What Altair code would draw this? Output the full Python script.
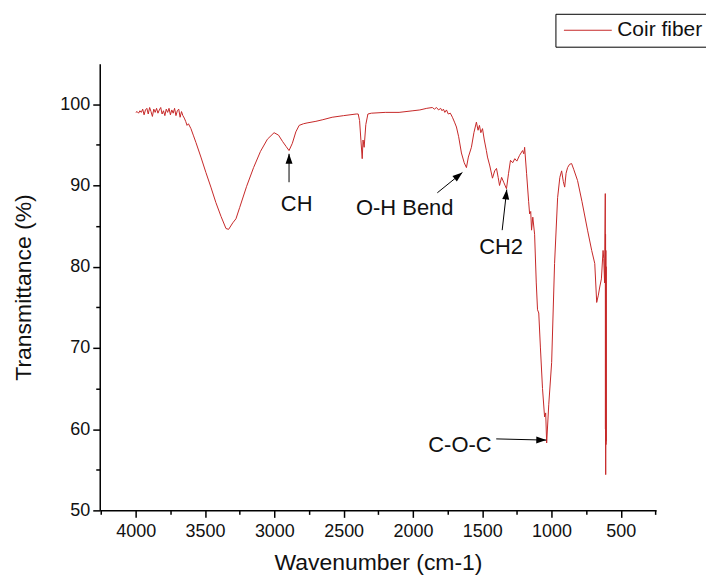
import altair as alt
import pandas as pd

# ---- spectrum data ----
wavenumber = [
    4000, 3990, 3980, 3970, 3960, 3950, 3940, 3930, 3920, 3910, 3900, 3890, 3880, 3870,
    3860, 3850, 3840, 3830, 3820, 3810, 3800, 3790, 3780, 3770, 3760, 3750, 3740, 3730,
    3720, 3710, 3700, 3690, 3680, 3670, 3660, 3650, 3640, 3630, 3620, 3602, 3585, 3566,
    3530, 3494, 3458, 3422, 3385, 3349, 3330, 3300, 3277, 3250, 3200, 3150, 3100, 3050,
    3002, 2970, 2940, 2915, 2894, 2870, 2845, 2821, 2790, 2764, 2700, 2650, 2583, 2500,
    2409, 2395, 2385, 2375, 2366, 2360, 2352, 2340, 2325, 2300, 2200, 2100, 2000, 1950,
    1900, 1860, 1845, 1830, 1815, 1800, 1790, 1780, 1770, 1758, 1745, 1730, 1715, 1700,
    1686, 1670, 1650, 1630, 1614, 1600, 1578, 1560, 1542, 1530, 1520, 1510, 1498, 1485,
    1470, 1462, 1445, 1426, 1410, 1397, 1385, 1375, 1360, 1345, 1325, 1310, 1296, 1280,
    1265, 1250, 1231, 1220, 1209, 1200, 1194, 1180, 1165, 1158, 1150, 1144, 1135, 1122,
    1110, 1101, 1092, 1080, 1065, 1050, 1042, 1035, 1020, 999, 978, 956, 940, 927,
    915, 905, 895, 884, 870, 855, 840, 812, 780, 740, 710, 688, 674, 662,
    652, 640, 628, 623, 617, 612, 611, 610, 609, 608, 607, 606, 605,
]
transmittance = [
    99.0, 99.1, 98.9, 99.2, 99.0, 99.4, 98.7, 99.3, 99.5, 98.8, 99.6, 99.1, 98.5, 99.4,
    99.0, 99.5, 98.9, 99.3, 99.6, 98.8, 99.2, 98.6, 99.4, 99.0, 99.5, 98.7, 99.3, 98.9,
    99.5, 98.6, 99.2, 99.4, 98.4, 99.1, 98.6, 98.3, 97.9, 97.4, 97.6, 97.0, 96.2, 95.3,
    93.5, 91.6, 89.8, 87.9, 86.2, 84.7, 84.6, 85.4, 85.9, 87.3, 89.9, 92.2, 94.2, 95.7,
    96.5, 96.2, 95.4, 94.8, 94.3, 95.2, 96.6, 97.4, 97.6, 97.7, 97.9, 98.1, 98.4, 98.6,
    98.8, 98.8, 98.0, 95.5, 93.3, 95.6, 94.7, 97.5, 98.8, 98.9, 99.0, 99.0, 99.2, 99.3,
    99.5, 99.6, 99.4, 99.6, 99.3, 99.5, 99.2, 99.4, 99.0, 99.3, 98.8, 98.9, 98.4, 97.8,
    97.2, 96.0, 94.0, 92.8, 92.2, 93.5, 94.7, 96.5, 97.8, 96.8, 97.4, 96.5, 97.0, 95.6,
    94.3, 93.5, 92.4, 90.9, 91.8, 92.1, 91.0, 90.0, 91.0, 90.4, 89.6, 91.5, 93.1, 92.8,
    93.3, 93.0, 93.7, 94.0, 94.3, 93.9, 94.7, 91.5, 88.0, 86.5, 86.8, 84.5, 86.1, 84.0,
    78.0, 74.7, 74.3, 70.0, 65.0, 61.5, 62.0, 58.3, 63.0, 68.2, 80.4, 88.5, 91.0, 91.8,
    90.5, 89.8, 91.5, 92.2, 92.6, 92.7, 92.0, 90.6, 88.0, 84.5, 82.0, 80.4, 75.6, 76.5,
    77.5, 78.5, 82.0, 81.0, 78.0, 89.0, 60.0, 84.0, 54.4, 82.0, 58.1, 80.0, 58.5,
]
series_name = "Coir fiber"

# ---- annotations ----
label_text = ["CH", "O-H Bend", "CH2", "C-O-C"]
label_x = [2839, 2059, 1364, 1661]
label_y = [87.7, 87.2, 82.4, 58.0]

arrow_x_tail = [2894, 1824, 1356, 1399]
arrow_y_tail = [90.4, 89.1, 84.5, 58.8]
arrow_x_tip = [2894, 1643, 1323, 1038]
arrow_y_tip = [93.9, 91.6, 89.5, 58.65]
arrow_angle = [0, 51, 6, 91]

x_ticks = list(range(4250, 249, -250))
y_ticks = list(range(50, 101, 5))

spec_df = pd.DataFrame({
    "wn": wavenumber,
    "t": transmittance,
    "idx": list(range(len(wavenumber))),
    "series": [series_name] * len(wavenumber),
})
lab_df = pd.DataFrame({"text": label_text, "x": label_x, "y": label_y})
arr_df = pd.DataFrame({
    "x": arrow_x_tail, "y": arrow_y_tail,
    "x2": arrow_x_tip, "y2": arrow_y_tip, "angle": arrow_angle,
})

FONT = "Liberation Sans"
RED = "#c62828"

x_scale = alt.Scale(domain=[4260, 245], nice=False, zero=False)
y_scale = alt.Scale(domain=[50, 105], nice=False, zero=False)

x_axis = alt.Axis(
    title="Wavenumber (cm-1)",
    values=x_ticks,
    tickCount=100,
    format="d",
    labelOverlap=False,
    labelPadding=5,
    labelExpr="datum.value % 500 === 0 ? datum.label : ''",
    tickSize={"condition": {"test": "datum.value % 500 === 0", "value": 7}, "value": 4},
    titlePadding=11,
)
y_axis = alt.Axis(
    title="Transmittance (%)",
    values=y_ticks,
    tickCount=100,
    format="d",
    labelOverlap=False,
    labelPadding=3,
    labelExpr="datum.value % 10 === 0 ? datum.label : ''",
    tickSize={"condition": {"test": "datum.value % 10 === 0", "value": 7}, "value": 4},
    titlePadding=24,
)

line = alt.Chart(spec_df).mark_line(strokeWidth=1).encode(
    x=alt.X("wn:Q", scale=x_scale, axis=x_axis),
    y=alt.Y("t:Q", scale=y_scale, axis=y_axis),
    order="idx:Q",
    color=alt.Color(
        "series:N",
        scale=alt.Scale(domain=[series_name], range=[RED]),
        legend=alt.Legend(
            title=None, orient="none", legendX=457, legendY=-50,
            symbolType="M-3,0H3", symbolSize=256, symbolStrokeWidth=1.2,
            symbolOffset=16, labelOffset=19,
            labelFont=FONT, labelFontSize=21, labelColor="#111",
            strokeColor="black", padding=6, fillColor="white",
            cornerRadius=0,
        ),
    ),
)

texts = alt.Chart(lab_df).mark_text(
    font=FONT, fontSize=22, color="#111", align="center", baseline="middle"
).encode(x=alt.X("x:Q", scale=x_scale), y=alt.Y("y:Q", scale=y_scale), text="text:N")

shafts = alt.Chart(arr_df).mark_rule(color="black", strokeWidth=1).encode(
    x=alt.X("x:Q", scale=x_scale), y=alt.Y("y:Q", scale=y_scale), x2="x2:Q", y2="y2:Q"
)

heads = alt.Chart(arr_df).mark_point(
    shape="M0,0L-0.35,1L0.35,1Z", filled=True, color="black", size=400, opacity=1
).encode(
    x=alt.X("x2:Q", scale=x_scale), y=alt.Y("y2:Q", scale=y_scale), angle=alt.Angle("angle:Q", scale=None)
)

chart = alt.layer(line, shafts, heads, texts).properties(
    width=558, height=448,
    autosize=alt.AutoSizeParams(type="none"),
    padding={"left": 92, "top": 55, "right": 50, "bottom": 64},
).configure_view(stroke=None).configure_axis(
    domainColor="black", domainWidth=1.5, tickColor="black", tickWidth=1.5,
    labelFont=FONT, labelFontSize=18, labelColor="#111",
    titleFont=FONT, titleFontSize=23, titleFontWeight="normal", titleColor="#111",
    grid=False,
)

chart.save("out.html", embed_options={"renderer": "svg", "actions": False})
